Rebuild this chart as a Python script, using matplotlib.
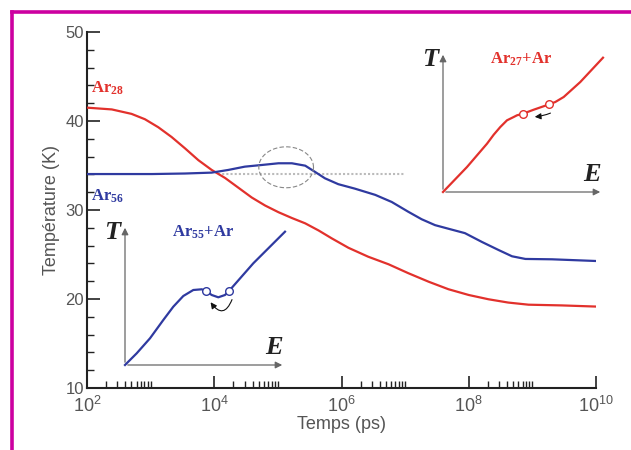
import numpy as np
import matplotlib
matplotlib.use("Agg")
import matplotlib.pyplot as plt
from matplotlib.lines import Line2D
from matplotlib.ticker import NullFormatter

# main curves (log10 of time in ps, temperature in K)
red_logt = [2.0, 2.39, 2.70, 2.91, 3.12, 3.33, 3.54, 3.75, 3.96, 4.17, 4.38, 4.59, 4.80,
            5.01, 5.22, 5.43, 5.64, 5.85, 6.11, 6.42, 6.74, 7.05, 7.37, 7.68, 8.0,
            8.31, 8.62, 8.94, 9.46, 10.0]
red_temp = [41.5, 41.3, 40.8, 40.2, 39.3, 38.2, 36.93, 35.6, 34.5, 33.6, 32.5, 31.4, 30.5,
            29.75, 29.1, 28.5, 27.7, 26.8, 25.75, 24.75, 23.9, 22.9, 21.94, 21.1, 20.45,
            19.97, 19.6, 19.36, 19.28, 19.15]
blue_logt = [2.0, 3.02, 3.54, 3.96, 4.22, 4.48, 4.75, 5.01, 5.22, 5.43, 5.58, 5.74, 5.95,
             6.21, 6.53, 6.79, 7.05, 7.26, 7.47, 7.73, 7.94, 8.21, 8.47, 8.68, 8.89, 9.31, 10.0]
blue_temp = [34.04, 34.04, 34.1, 34.2, 34.5, 34.87, 35.06, 35.25, 35.25, 34.98, 34.3, 33.56, 32.9,
             32.4, 31.7, 30.9, 29.8, 28.96, 28.3, 27.8, 27.4, 26.4, 25.5, 24.8, 24.5, 24.46, 24.27]

# reference line and highlighted region
ref_temp = 34.0
ref_span = [4.06, 7.0]
circle_center = [5.13, 34.8]
circle_size = [0.43, 2.3]

# insets: E, T in arbitrary units
in55_E = [0, 11.7, 25, 38.3, 48.3, 58.3, 68.3, 76.7, 80.7, 86.7, 93.3, 100, 104, 128.3, 160]
in55_T = [0, 11.7, 26.7, 45, 58.3, 69, 75, 75.7, 74.3, 70, 67.7, 70, 74, 101.7, 133.3]
in55_open = [[80.7, 104], [74.3, 74]]
in27_E = [0, 24, 44, 50.7, 57.3, 64, 70.7, 74, 80, 90.7, 106.3, 112.3, 120.7, 137.3, 160]
in27_T = [0, 25, 48.3, 57.3, 65, 71.7, 75, 76.7, 78.3, 82.3, 87.7, 90, 95, 110, 134.3]
in27_open = [[80, 106.3], [78.3, 87.7]]

RED = "#e2312c"
BLUE = "#2f3aa0"
GREY = "#555555"

plt.rcParams['font.family'] = ['Liberation Sans', 'DejaVu Sans']
plt.rcParams['mathtext.default'] = 'regular'

fig = plt.figure(figsize=(6.31, 4.5), dpi=100)
ax = fig.add_axes([87/631, 1 - 388/450, 509/631, 356/450])

ax.plot(10**np.array(red_logt), red_temp, color=RED, lw=1.6, zorder=3)
ax.plot(10**np.array(blue_logt), blue_temp, color=BLUE, lw=1.6, zorder=3)
ax.plot([10**ref_span[0], 10**ref_span[1]], [ref_temp, ref_temp], color="#bbbbbb",
        ls=(0, (1, 1)), lw=1.5, zorder=2)
t = np.linspace(0, 2*np.pi, 200)
ax.plot(10**(circle_center[0] + circle_size[0]*np.cos(t)),
        circle_center[1] + circle_size[1]*np.sin(t),
        color="#888888", ls=(0, (4, 2)), lw=0.8, zorder=4)

ax.set_xscale("log")
ax.set_xlim(1e2, 1e10)
ax.set_ylim(10, 50)
ax.set_xticks([1e2, 1e4, 1e6, 1e8, 1e10])
ax.set_xticklabels(["$10^2$", "$10^4$", "$10^6$", "$10^8$", "$10^{10}$"])
minors = [k*10.0**d for d in (2, 4, 6, 8) for k in range(2, 11)]
ax.set_xticks(minors, minor=True)
ax.xaxis.set_minor_formatter(NullFormatter())
ax.set_yticks([10, 20, 30, 40, 50])
ax.set_yticks(np.arange(10, 50, 2), minor=True)
ax.tick_params(which="major", direction="in", length=9, width=1.2, colors="#222222",
               labelcolor=GREY, labelsize=12, pad=2)
ax.tick_params(which="minor", direction="in", length=5, width=1.0, colors="#222222")
ax.tick_params(axis="x", which="major", labelsize=13, pad=6)
ax.spines["top"].set_visible(False)
ax.spines["right"].set_visible(False)
for s in ("left", "bottom"):
    ax.spines[s].set_linewidth(1.5)
    ax.spines[s].set_color("#222222")
ax.set_xlabel("Temps (ps)", fontsize=13, color=GREY, labelpad=0)
ax.set_ylabel("Température (K)", fontsize=13, color=GREY, labelpad=4)

serif = ['Liberation Serif', 'DejaVu Serif']
ax.text(1.15e2, 43.2, "Ar$_{28}$", color=RED, fontsize=12, fontweight="bold", family=serif)
ax.text(1.15e2, 31.1, "Ar$_{56}$", color=BLUE, fontsize=12, fontweight="bold", family=serif)


def inset(pos, E, T, opens, color, label, arrow_from, arrow_to, rad):
    # pos in pixels: origin x, origin y (from top)
    ox, oy = pos
    ia = fig.add_axes([(ox - 20)/631, 1 - (oy + 10)/450, 190/631, 165/450])
    ia.set_xlim(-20, 170)
    ia.set_ylim(-10, 155)
    ia.axis("off")
    ia.patch.set_alpha(0)
    ia.annotate("", xy=(160, 0), xytext=(0, 0),
                arrowprops=dict(arrowstyle="-|>", color="#666666", lw=0.9, mutation_scale=10))
    ia.annotate("", xy=(0, 140), xytext=(0, 0),
                arrowprops=dict(arrowstyle="-|>", color="#666666", lw=0.9, mutation_scale=10))
    ia.plot(E, T, color=color, lw=1.6, zorder=3)
    ia.plot(opens[0], opens[1], "o", ms=5.5, mfc="white", mec=color, mew=1.0, zorder=4)
    ia.annotate("", xy=arrow_to, xytext=arrow_from,
                arrowprops=dict(arrowstyle="-|>", color="#111111", lw=0.8, mutation_scale=9,
                                connectionstyle=f"arc3,rad={rad}"))
    ia.text(-5, 133, "T", fontsize=19, style="italic", fontweight="bold", family=serif,
            ha="right", va="center", color="#222222")
    ia.text(158, 6, "E", fontsize=19, style="italic", fontweight="bold", family=serif,
            ha="right", va="bottom", color="#222222")
    ia.text(47, 133, label, fontsize=12, fontweight="bold", color=color, family=serif,
            ha="left", va="center")
    return ia


inset((125, 365), in55_E, in55_T, in55_open, BLUE, "Ar$_{55}$+Ar",
      (108, 68), (84, 65), -1.0)
inset((443, 192), in27_E, in27_T, in27_open, RED, "Ar$_{27}$+Ar",
      (110, 80), (89, 75), -0.1)

# magenta frame
fig.add_artist(Line2D([11.5/631, 11.5/631], [0, 1 - 11.5/450], color="#cc00a0", lw=2.6,
                      transform=fig.transFigure))
fig.add_artist(Line2D([11.5/631, 1], [1 - 11.5/450, 1 - 11.5/450], color="#cc00a0", lw=2.6,
                      transform=fig.transFigure))

fig.savefig("out.png", dpi=100)
